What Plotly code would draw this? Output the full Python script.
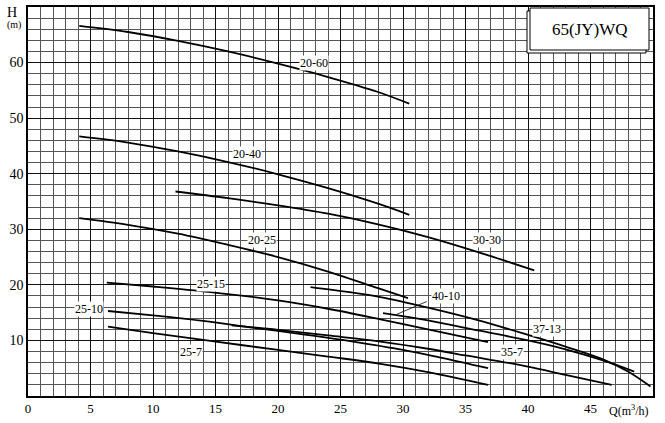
import plotly.graph_objects as go

# ---- data ----
q_20_60 = [4.1, 8, 12, 16, 20, 24, 28, 30.5]
h_20_60 = [66.6, 65.5, 63.9, 62.0, 59.8, 57.4, 54.7, 52.6]

q_20_40 = [4.1, 8, 12, 16, 20, 24, 28, 30.5]
h_20_40 = [46.7, 45.6, 44.0, 42.1, 39.9, 37.4, 34.6, 32.6]

q_30_30 = [11.8, 16, 20, 24, 28, 32, 36, 40.5]
h_30_30 = [36.8, 35.6, 34.3, 32.8, 30.9, 28.6, 25.9, 22.6]

q_20_25 = [4.1, 8, 12, 16, 20, 24, 28, 30.4]
h_20_25 = [32.0, 30.8, 29.2, 27.2, 25.0, 22.4, 19.4, 17.6]

q_25_15 = [6.3, 10, 14.6, 20, 24, 28.2, 32, 36.8]
h_25_15 = [20.4, 19.7, 18.7, 17.2, 15.7, 13.8, 12.0, 9.7]

q_25_10 = [6.4, 10, 14, 18, 22, 26, 30, 33, 36.8]
h_25_10 = [15.3, 14.5, 13.5, 12.3, 11.1, 9.8, 8.3, 6.9, 5.0]

q_25_7 = [6.4, 10, 14.6, 20, 24, 28.2, 32, 36.8]
h_25_7 = [12.5, 11.3, 9.9, 8.3, 7.1, 5.8, 4.3, 2.0]

q_35_7 = [16.3, 20, 24, 28.2, 32, 35, 40, 43, 46.7]
h_35_7 = [12.7, 11.9, 10.9, 9.8, 8.5, 7.3, 5.3, 3.8, 2.0]

q_37_13 = [22.6, 26, 28.2, 32, 35.9, 40, 43, 46, 48, 49.8]
h_37_13 = [19.6, 18.6, 17.8, 15.9, 13.7, 11.0, 8.9, 6.6, 4.4, 1.7]

q_40_10 = [28.4, 32, 36, 40, 43, 46, 48.5]
h_40_10 = [14.9, 13.6, 11.8, 10.0, 8.4, 6.4, 4.4]

curves = [
    ("20-60", q_20_60, h_20_60),
    ("20-40", q_20_40, h_20_40),
    ("30-30", q_30_30, h_30_30),
    ("20-25", q_20_25, h_20_25),
    ("25-15", q_25_15, h_25_15),
    ("25-10", q_25_10, h_25_10),
    ("25-7", q_25_7, h_25_7),
    ("35-7", q_35_7, h_35_7),
    ("37-13", q_37_13, h_37_13),
    ("40-10", q_40_10, h_40_10),
]

# label positions (Q, H) for each curve name
label_names = ["20-60", "20-40", "30-30", "20-25", "25-15", "25-10", "25-7", "40-10", "37-13", "35-7"]
label_q = [22.9, 17.5, 36.7, 18.7, 14.6, 4.9, 13.0, 33.4, 41.5, 38.7]
label_h = [60.0, 43.6, 28.0, 28.0, 20.2, 15.6, 8.0, 18.0, 12.0, 8.0]

x_ticks = [0, 5, 10, 15, 20, 25, 30, 35, 40, 45]
y_ticks = [10, 20, 30, 40, 50, 60]
title_text = "65(JY)WQ"

FONT = "Liberation Serif, Times New Roman, serif"

fig = go.Figure()
for name, q, h in curves:
    fig.add_trace(go.Scatter(
        x=q, y=h, mode="lines", name=name,
        line=dict(color="black", width=1.8, shape="spline", smoothing=1.0),
        hoverinfo="skip", showlegend=False,
    ))

for n, qx, hy in zip(label_names, label_q, label_h):
    fig.add_annotation(x=qx, y=hy, xref="x", yref="y", text=n, showarrow=False,
                       xanchor="center", yanchor="middle",
                       font=dict(family=FONT, size=12, color="black"),
                       bgcolor="white", borderpad=0)

# leader line for 40-10
fig.add_shape(type="line", x0=29.5, y0=14.7, x1=31.9, y1=17.0,
              line=dict(color="black", width=0.8), layer="above")

# title box with shadow
fig.add_shape(type="rect", x0=39.92, x1=49.44, y0=61.72, y1=69.28,
              line=dict(color="black", width=1), fillcolor="white", layer="above")
fig.add_shape(type="rect", x0=40.16, x1=49.68, y0=62.26, y1=69.82,
              line=dict(color="black", width=1), fillcolor="white", layer="above")
fig.add_annotation(x=44.92, y=66.0, xref="x", yref="y", text=title_text, showarrow=False,
                   xanchor="center", yanchor="middle",
                   font=dict(family=FONT, size=17, color="black"))

# axis titles
fig.add_annotation(x=-0.026, y=0.987, xref="paper", yref="paper", text="H", showarrow=False,
                   xanchor="center", yanchor="middle",
                   font=dict(family=FONT, size=14, color="black"))
fig.add_annotation(x=-0.022, y=0.953, xref="paper", yref="paper", text="(m)", showarrow=False,
                   xanchor="center", yanchor="middle",
                   font=dict(family=FONT, size=10, color="black"))
fig.add_annotation(x=48.1, y=-0.036, xref="x", yref="paper", text="Q(m<sup>3</sup>/h)",
                   showarrow=False, xanchor="center", yanchor="middle",
                   font=dict(family=FONT, size=12, color="black"))

fig.update_layout(
    width=665, height=423,
    margin=dict(l=28, r=12, t=7, b=27, autoexpand=False),
    paper_bgcolor="white", plot_bgcolor="white",
    font=dict(family=FONT, color="black"),
)
fig.update_xaxes(
    range=[0, 50], tickvals=x_ticks, ticktext=[str(v) for v in x_ticks],
    showgrid=True, gridcolor="#111111", gridwidth=1.4,
    minor=dict(dtick=1, tick0=0, showgrid=True, gridcolor="#555555", gridwidth=1),
    showline=True, linecolor="black", linewidth=1.5, mirror=True, automargin=False,
    ticks="", tickfont=dict(family=FONT, size=13, color="black"), zeroline=False,
)
fig.update_yaxes(
    range=[0, 70], tickvals=y_ticks, ticktext=[str(v) for v in y_ticks],
    showgrid=True, gridcolor="#111111", gridwidth=1.4,
    minor=dict(dtick=2, tick0=0, showgrid=True, gridcolor="#555555", gridwidth=1),
    showline=True, linecolor="black", linewidth=1.5, mirror=True, automargin=False,
    ticks="", tickfont=dict(family=FONT, size=14, color="black"), zeroline=False,
)

fig.write_html("out.html", config={"displayModeBar": False},
               post_script="document.body.style.margin='0';document.body.style.overflow='hidden';")
